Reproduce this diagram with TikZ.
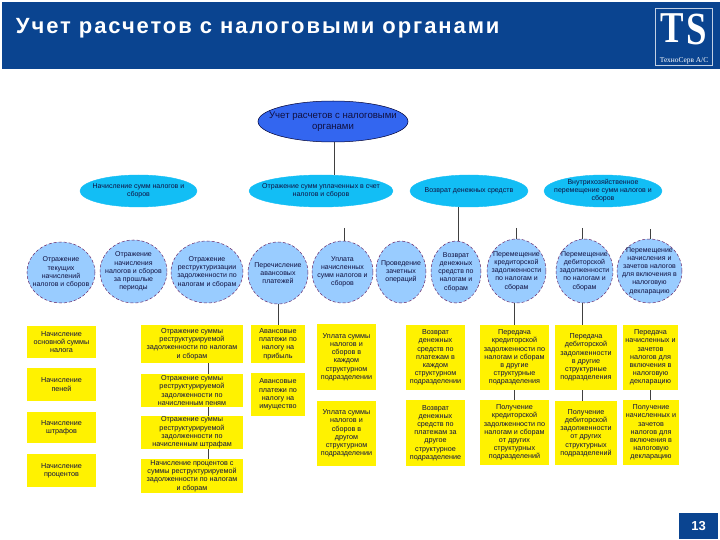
\documentclass[tikz,border=0pt]{standalone}
\usepackage{fontspec}
\setmainfont{Liberation Sans}
\newfontfamily\logofont{Liberation Serif}
\newfontfamily\titlefont[LetterSpace=8.7]{Liberation Sans}
\usetikzlibrary{shapes.geometric}
\definecolor{band}{HTML}{0A4490}
\definecolor{rootblue}{HTML}{3366F0}
\definecolor{midblue}{HTML}{12BEF5}
\definecolor{pale}{HTML}{99CCFF}
\definecolor{edgeline}{HTML}{6A2A6A}
\definecolor{txt}{HTML}{101040}
\tikzset{
 rootell/.style={ellipse,draw=black!80!blue,line width=.5pt,fill=rootblue,inner sep=-15pt,align=center,font=\fontsize{9.6}{11}\selectfont,text=txt},
 midell/.style={ellipse,draw=midblue,line width=.4pt,fill=midblue,inner sep=-15pt,align=center,font=\fontsize{7}{8}\selectfont,text=txt},
 lowell/.style={ellipse,draw=edgeline,densely dashed,line width=.5pt,fill=pale,inner sep=-15pt,align=center,font=\fontsize{7}{8.2}\selectfont,text=txt},
 ybox/.style={rectangle,fill=yellow,inner sep=0pt,align=center,font=\fontsize{7.2}{8.2}\selectfont,text=txt},
 link/.style={draw=black!75,line width=.8pt},
 pnode/.style={inner sep=0pt,outer sep=0pt}
}
\begin{document}
\begin{tikzpicture}[x=1pt,y=-1pt]
\useasboundingbox (0,0) rectangle (720,540);
\fill[white] (0,0) rectangle (720,540);
% header
\fill[band] (2,2) rectangle (720,69);
\node[pnode,anchor=west,text=white,font=\titlefont\bfseries\fontsize{22}{24}\selectfont] (title) at (16,28) {Учет расчетов с налоговыми органами};
\node[pnode,draw=white!75!band,line width=.6pt,minimum width=57pt,minimum height=57pt] (logo) at (684,36.5) {};
\node[pnode,text=white,xscale=.8,font=\logofont\bfseries\fontsize{44}{44}\selectfont] (logot) at (672,28) {T};
\node[pnode,text=white,xscale=.8,font=\logofont\bfseries\fontsize{46}{46}\selectfont] (logos) at (697,29) {S};
\node[pnode,text=white,font=\logofont\fontsize{7.4}{8}\selectfont] (logotx) at (684,60.5) {ТехноСерв А/С};
% footer
\node[pnode,fill=band,text=white,minimum width=39pt,minimum height=26pt,font=\bfseries\fontsize{13}{15}\selectfont] (page) at (698.5,526) {13};
% root
\node[rootell,minimum width=150pt,minimum height=41pt] (root) at (333,121.5) {Учет расчетов с налоговыми\\органами};
% level 2
\node[midell,minimum width=117pt,minimum height=32pt] (e1) at (138.5,191) {Начисление сумм налогов и\\сборов};
\node[midell,minimum width=144pt,minimum height=32pt] (e2) at (321,191) {Отражение сумм уплаченных в счет\\налогов и сборов};
\node[midell,minimum width=118pt,minimum height=32pt] (e3) at (469,191) {Возврат денежных средств};
\node[midell,minimum width=118pt,minimum height=32pt] (e4) at (603,191) {Внутрихозяйственное\\перемещение сумм налогов и\\сборов};
% level 3
\node[lowell,minimum width=68pt,minimum height=61pt] (c1) at (61,272.5) {Отражение\\текущих\\начислений\\налогов и сборов};
\node[lowell,minimum width=67pt,minimum height=63pt] (c2) at (133.5,271.5) {Отражение\\начисления\\налогов и сборов\\за прошлые\\периоды};
\node[lowell,minimum width=72pt,minimum height=62pt] (c3) at (207,272) {Отражение\\реструктуризации\\задолженности по\\налогам и сборам};
\node[lowell,minimum width=60pt,minimum height=62pt] (c4) at (278,273) {Перечисление\\авансовых\\платежей};
\node[lowell,minimum width=61pt,minimum height=62pt] (c5) at (342.5,272) {Уплата\\начисленных\\сумм налогов и\\сборов};
\node[lowell,minimum width=50pt,minimum height=62pt] (c6) at (401,272) {Проведение\\зачетных\\операций};
\node[lowell,minimum width=50pt,minimum height=62pt] (c7) at (456,272) {Возврат\\денежных\\средств по\\налогам и\\сборам};
\node[lowell,minimum width=59pt,minimum height=64pt] (c8) at (516.5,271) {Перемещение\\кредиторской\\задолженности\\по налогам и\\сборам};
\node[lowell,minimum width=57pt,minimum height=64pt] (c9) at (584.5,271) {Перемещение\\дебиторской\\задолженности\\по налогам и\\сборам};
\node[lowell,minimum width=65pt,minimum height=64pt] (c10) at (649.5,271) {Перемещение\\начисления и\\зачетов налогов\\для включения в\\налоговую\\декларацию};
% boxes
\node[ybox,minimum width=69pt,minimum height=32pt] (b1) at (61.5,342) {Начисление\\основной суммы\\налога};
\node[ybox,minimum width=69pt,minimum height=33pt] (b2) at (61.5,384.5) {Начисление\\пеней};
\node[ybox,minimum width=69pt,minimum height=31pt] (b3) at (61.5,427.5) {Начисление\\штрафов};
\node[ybox,minimum width=69pt,minimum height=33pt] (b4) at (61.5,470.5) {Начисление\\процентов};
\node[ybox,minimum width=102pt,minimum height=38pt] (d1) at (192,344) {Отражение суммы\\реструктурируемой\\задолженности по налогам\\и сборам};
\node[ybox,minimum width=102pt,minimum height=33pt] (d2) at (192,390.5) {Отражение суммы\\реструктурируемой\\задолженности по\\начисленным пеням};
\node[ybox,minimum width=102pt,minimum height=33pt] (d3) at (192,432.5) {Отражение суммы\\реструктурируемой\\задолженности по\\начисленным штрафам};
\node[ybox,minimum width=102pt,minimum height=34pt] (d4) at (192,476) {Начисление процентов с\\суммы реструктурируемой\\задолженности по налогам\\и сборам};
\node[ybox,minimum width=54pt,minimum height=38pt] (f1) at (278,344) {Авансовые\\платежи по\\налогу на\\прибыль};
\node[ybox,minimum width=54pt,minimum height=43pt] (f2) at (278,394.5) {Авансовые\\платежи по\\налогу на\\имущество};
\node[ybox,minimum width=59pt,minimum height=66pt] (g1) at (346.5,357) {Уплата суммы\\налогов и\\сборов в\\каждом\\структурном\\подразделении};
\node[ybox,minimum width=59pt,minimum height=65pt] (g2) at (346.5,433.5) {Уплата суммы\\налогов и\\сборов в\\другом\\структурном\\подразделении};
\node[ybox,minimum width=59pt,minimum height=65pt] (h1) at (435.5,357.5) {Возврат\\денежных\\средств по\\платежам в\\каждом\\структурном\\подразделении};
\node[ybox,minimum width=59pt,minimum height=66pt] (h2) at (435.5,433) {Возврат\\денежных\\средств по\\платежам за\\другое\\структурное\\подразделение};
\node[ybox,minimum width=69pt,minimum height=65pt] (i1) at (514.5,357.5) {Передача\\кредиторской\\задолженности по\\налогам и сборам\\в другие\\структурные\\подразделения};
\node[ybox,minimum width=69pt,minimum height=65pt] (i2) at (514.5,432.5) {Получение\\кредиторской\\задолженности по\\налогам и сборам\\от других\\структурных\\подразделений};
\node[ybox,minimum width=62pt,minimum height=65pt] (j1) at (586,357.5) {Передача\\дебиторской\\задолженности\\в другие\\структурные\\подразделения};
\node[ybox,minimum width=62pt,minimum height=64pt] (j2) at (586,433) {Получение\\дебиторской\\задолженности\\от других\\структурных\\подразделений};
\node[ybox,minimum width=55pt,minimum height=65pt] (k1) at (650.5,357.5) {Передача\\начисленных и\\зачетов\\налогов для\\включения в\\налоговую\\декларацию};
\node[ybox,minimum width=56pt,minimum height=65pt] (k2) at (651,432.5) {Получение\\начисленных и\\зачетов\\налогов для\\включения в\\налоговую\\декларацию};
% connectors
\coordinate (s5) at (344,228);
\coordinate (s8) at (516,228);
\coordinate (s9) at (582,228);
\coordinate (s10) at (650,229);
\coordinate (rx) at (334,142);
\coordinate (t7) at (458,207);
\draw[link] (rx) -- (rx |- e2.north);
\draw[link] (t7) -- (t7 |- c7.north);
\draw[link] (s5) -- (s5 |- c5.north);
\draw[link] (s8) -- (s8 |- c8.north);
\draw[link] (s9) -- (s9 |- c9.north);
\draw[link] (s10) -- (s10 |- c10.north);
\draw[link] (c4.south) -- (f1.north);
\draw[link] (i1.north |- c8.south) -- (i1.north);
\draw[link] (j1.north -| s9) -- (s9 |- c9.south);
\draw[link] ([xshift=16pt]d1.south) -- ([xshift=16pt]d2.north);
\draw[link] ([xshift=16pt]d2.south) -- ([xshift=16pt]d3.north);
\draw[link] ([xshift=16pt]d3.south) -- ([xshift=16pt]d4.north);
\draw[link] (i1.south) -- (i2.north);
\draw[link] (s9 |- j1.south) -- (s9 |- j2.north);
\draw[link] (k1.south) -- (k1.south |- k2.north);
\end{tikzpicture}
\end{document}
